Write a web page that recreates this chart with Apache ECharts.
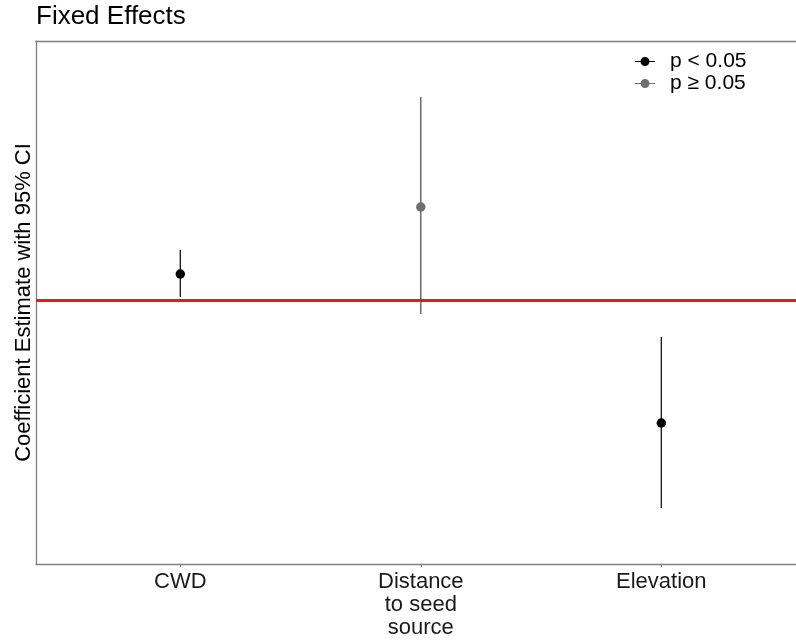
<!DOCTYPE html>
<html>
<head>
<meta charset="utf-8">
<script src="https://cdn.jsdelivr.net/npm/echarts@6/dist/echarts.min.js"></script>
<style>html,body{margin:0;padding:0;background:#fff;}#c{width:796px;height:641px;}</style>
</head>
<body>
<div id="c"></div>
<script>
const categories = ['CWD', 'Distance\nto seed\nsource', 'Elevation'];
const estimates = [0.26, 0.93, -1.23];
const ciLow = [0.03, -0.14, -2.08];
const ciHigh = [0.50, 2.03, -0.37];
const significant = [true, false, true];
const legendNames = ['p < 0.05', 'p \u2265 0.05'];

const FONT = '"Liberation Sans", Arial, sans-serif';
const colSig = '#000000';
const colNon = '#6e6e6e';
const borderCol = '#7f7f7f';

const xs = categories.map((c, i) => i + 1);
const sigPts = [], nonPts = [], bars = [];
xs.forEach((x, i) => {
  (significant[i] ? sigPts : nonPts).push([x, estimates[i]]);
  bars.push([x, ciLow[i], ciHigh[i], significant[i] ? 1 : 0]);
});

const legendIcon = 'path://M0,4.4 L20,4.4 L20,5.6 L0,5.6 Z M14.5,5 A4.5,4.5 0 1 1 5.5,5 A4.5,4.5 0 1 1 14.5,5 Z';

const chart = echarts.init(document.getElementById('c'), null, {renderer: 'canvas'});
chart.setOption({
  animation: false,
  backgroundColor: '#ffffff',
  title: {
    text: 'Fixed Effects', left: 36, top: 4, padding: 0,
    textStyle: {fontFamily: FONT, fontSize: 26, fontWeight: 'normal', color: '#000'}
  },
  legend: {
    orient: 'vertical', left: 635, top: 51, padding: 0,
    itemWidth: 20, itemHeight: 10, itemGap: 1,
    textStyle: {fontFamily: FONT, fontSize: 21, lineHeight: 21, color: '#000', padding: [0, 0, 0, 10]},
    data: [
      {name: legendNames[0], icon: legendIcon, itemStyle: {color: colSig, opacity: 1}},
      {name: legendNames[1], icon: legendIcon, itemStyle: {color: colNon, opacity: 1}}
    ]
  },
  grid: {
    left: 36, top: 41, right: 0, height: 523, show: false
  },
  xAxis: [{
    type: 'value', min: 0.4, max: 0.4 + 760 / 240.5, position: 'bottom',
    splitLine: {show: false},
    axisLine: {show: true, onZero: false, lineStyle: {color: borderCol, width: 1.3}},
    axisTick: {show: true, length: 3, lineStyle: {color: borderCol}, customValues: xs},
    axisLabel: {
      customValues: xs, margin: 6, showMinLabel: true, showMaxLabel: true,
      fontFamily: FONT, fontSize: 22, lineHeight: 23, color: '#1a1a1a',
      formatter: v => categories[Math.round(v) - 1]
    }
  }, {
    type: 'value', min: 0.4, max: 0.4 + 760 / 240.5, position: 'top',
    splitLine: {show: false},
    axisLine: {show: true, onZero: false, lineStyle: {color: borderCol, width: 1.3}},
    axisTick: {show: false}, axisLabel: {show: false}
  }],
  yAxis: {
    type: 'value', min: -2.64, max: 2.59,
    splitLine: {show: false},
    axisLine: {show: true, onZero: false, lineStyle: {color: borderCol, width: 1.3}},
    axisTick: {show: false}, axisLabel: {show: false},
    name: 'Coefficient Estimate with 95% CI', nameLocation: 'middle', nameGap: 1,
    nameTextStyle: {fontFamily: FONT, fontSize: 22, color: '#000'}
  },
  series: [
    {
      type: 'custom', name: 'ci', silent: true, data: bars, z: 3,
      renderItem: (params, api) => {
        const p1 = api.coord([api.value(0), api.value(1)]);
        const p2 = api.coord([api.value(0), api.value(2)]);
        return {
          type: 'line',
          shape: {x1: p1[0], y1: p1[1], x2: p2[0], y2: p2[1]},
          style: {stroke: api.value(3) ? '#111' : '#555', lineWidth: 1.3}
        };
      }
    },
    {
      type: 'line', name: 'zero', silent: true, data: [], z: 2,
      markLine: {
        silent: true, symbol: 'none', label: {show: false},
        lineStyle: {color: '#e41a1c', width: 3, type: 'solid'},
        data: [{yAxis: 0}]
      }
    },
    {
      type: 'scatter', name: legendNames[0], data: sigPts, symbol: 'circle', symbolSize: 9.5, z: 5,
      itemStyle: {color: colSig, opacity: 1}
    },
    {
      type: 'scatter', name: legendNames[1], data: nonPts, symbol: 'circle', symbolSize: 9.5, z: 5,
      itemStyle: {color: colNon, opacity: 1}
    }
  ]
});
</script>
</body>
</html>
